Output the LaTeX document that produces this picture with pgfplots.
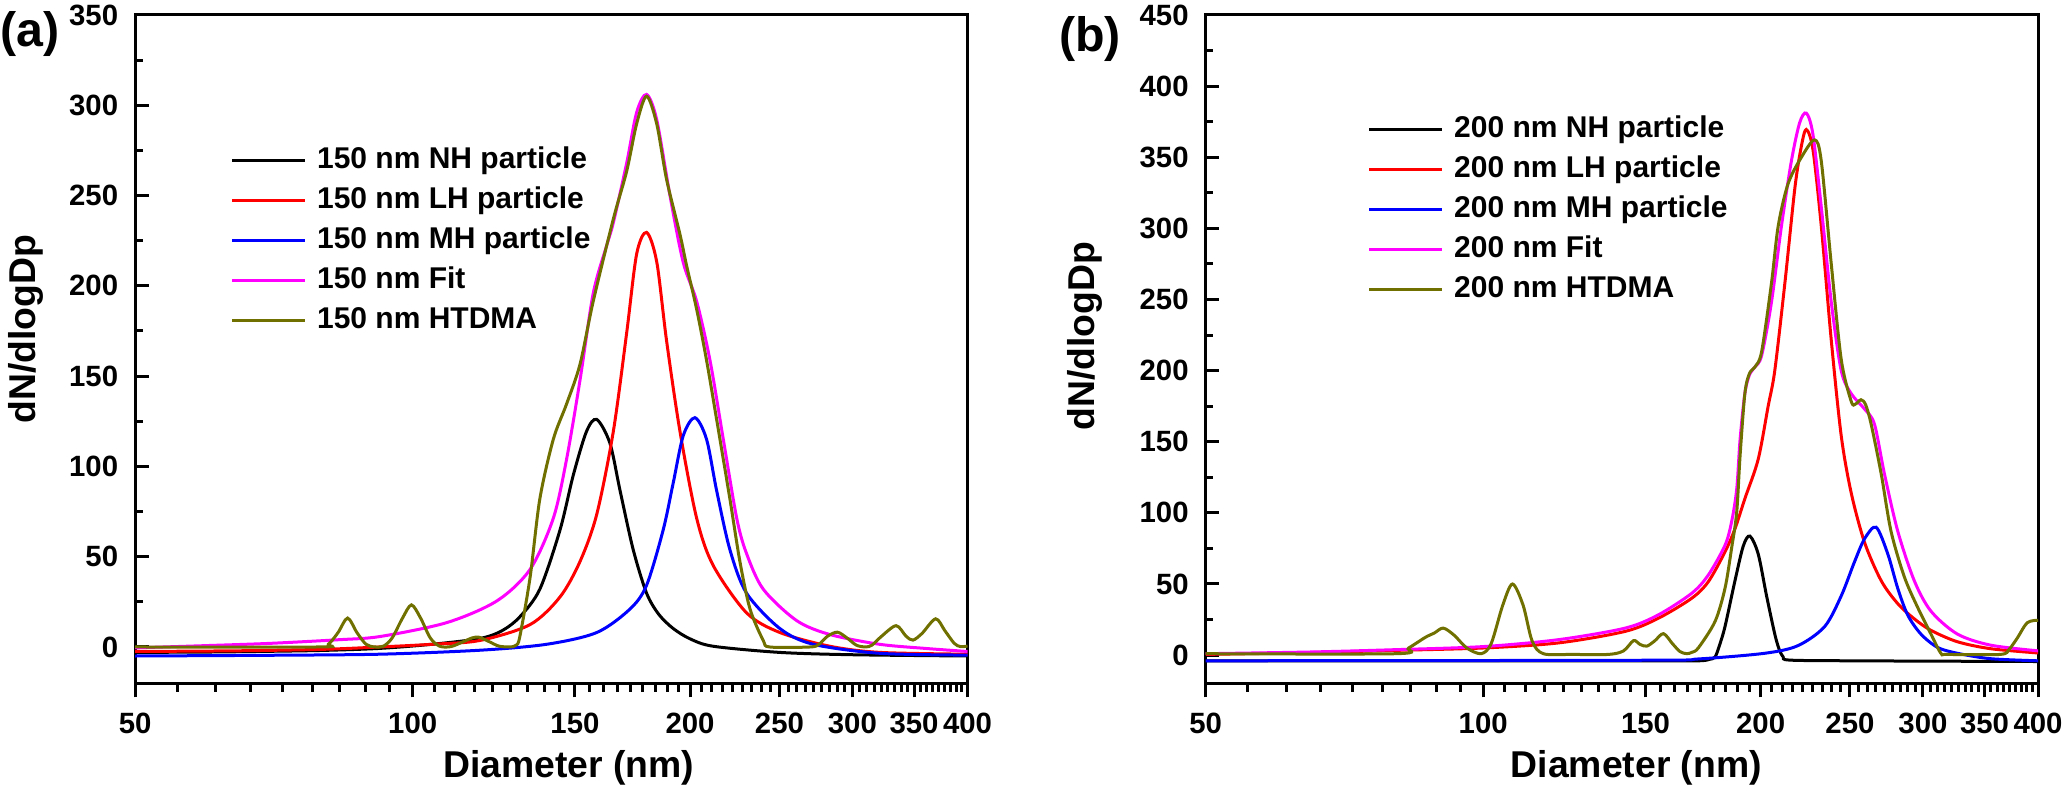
\documentclass[border=0pt]{standalone}
\usepackage{fontspec}
\setmainfont{Liberation Sans}
\usepackage{pgfplots}
\pgfplotsset{compat=1.18}
\definecolor{htdma}{RGB}{112,112,0}
\definecolor{fitc}{RGB}{255,0,255}

\pgfplotsset{
  myaxis/.style={
    scale only axis,
    width=249.7pt, height=200.7pt,
    xmin=50, xmax=400,
    xtick={50,100,150,200,250,300,350,400},
    xticklabels={50,100,150,200,250,300,350,400},
    minor xtick={55.556,61.111,66.667,72.222,77.778,83.333,88.889,94.444,
      105.556,111.111,116.667,122.222,127.778,133.333,138.889,144.444,
      155.556,161.111,166.667,172.222,177.778,183.333,188.889,194.444,
      205.556,211.111,216.667,222.222,227.778,233.333,238.889,244.444,
      255.556,261.111,266.667,272.222,277.778,283.333,288.889,294.444,
      305.556,311.111,316.667,322.222,327.778,333.333,338.889,344.444,
      355.556,361.111,366.667,372.222,377.778,383.333,388.889,394.444},
    minor y tick num=1,
    xtick pos=bottom, ytick pos=left,
    xtick align=outside, ytick align=inside,
    major tick length=4pt, minor tick length=2.3pt,
    axis line style={line width=0.9pt},
    every tick/.style={black, line width=0.9pt},
    tick label style={font=\bfseries\fontsize{8.8}{10}\selectfont},
    yticklabel style={xshift=-1.6pt},
    xticklabel style={yshift=-1.3pt},
    /pgf/number format/assume math mode=true,
    label style={font=\bfseries\fontsize{11.2}{13}\selectfont},
    xlabel={Diameter (nm)},
    ylabel={dN/dlogDp},
    legend cell align=left,
    legend style={draw=none, fill=none, font=\bfseries\fontsize{9}{10}\selectfont,
      anchor=north west, inner sep=0pt, row sep=0.5pt,
      nodes={inner sep=1.5pt, text height=6.6pt, text depth=1.9pt},
      /tikz/every odd column/.append style={column sep=1.6pt}},
    legend image code/.code={\draw[##1, line width=0.9pt] (0pt,0pt) -- (21.9pt,0pt);},
    every axis plot/.append style={line width=0.9pt, smooth, tension=0.5},
  }
}

\begin{document}
\begin{tikzpicture}
\useasboundingbox (-40.56pt,-34.5pt) rectangle (579.54pt,205.2pt);

% ---------------- panel (a)
\begin{axis}[xmode=log, myaxis, at={(0pt,0pt)}, anchor=south west,
  ymin=-20.5, ymax=350, ytick={0,50,100,150,200,250,300,350},
  xlabel style={at={(axis description cs:0.5207,-0.1256)}, anchor=center},
  ylabel style={at={(axis description cs:-0.1312,0.5306)}, anchor=center},
  legend style={at={(axis description cs:0.1140,0.8120)}}]
\addplot[black] coordinates {(50,-3) (60,-2.8) (70,-2.4) (80,-1.9) (92,-0.8) (105,1.5) (118.3,4.7) (125,9) (130.7,16.7) (137.4,32) (144.5,64.8) (149.4,95.3) (154.4,119.4) (158.4,126) (163.7,112.8) (167.9,86.6) (173.5,53.9) (179.4,29.8) (185,18) (191.8,10.2) (200,4.5) (211.9,0.4) (250,-3) (300,-4.3) (400,-5)};
\addplot[red] coordinates {(50,-2.5) (65,-2.1) (80,-1.3) (92,0) (105,1.5) (118.3,3.6) (134.1,12.4) (144.5,27.7) (151.9,47.3) (158.4,73.5) (165.1,119.4) (170.7,174) (175,217.6) (179.4,229.6) (184,213.3) (188.6,169.6) (195,119.4) (203.3,71.3) (211.9,45.1) (230.3,18.9) (250.3,8) (283.6,0.4) (321.3,-3) (400,-4)};
\addplot[blue] coordinates {(50,-5) (70,-4.6) (92.2,-4) (118.3,-1.8) (139.8,1.5) (158.4,8) (172.1,21) (179.4,34.2) (187,64.8) (191.8,91) (196.6,117) (202.4,127) (208.4,115) (213.7,86.6) (220.9,53.9) (230.3,29.8) (250.3,10.2) (272,1.5) (321,-3.5) (400,-4.5)};
\addplot[fitc] coordinates {(50,-0.5) (60,0.8) (70,2) (83,4) (92.2,5.8) (108.9,13.5) (123.4,25.5) (134.1,43) (142.1,71.3) (146.9,104) (151.9,147.7) (157,195.8) (162.3,222) (165.1,235) (170.7,268) (175,296) (179.4,306) (184,292) (190.2,250) (196.6,213) (203.3,191.4) (210.2,158.7) (217.3,115) (224.7,71.3) (230.3,51.7) (240.1,32) (261,14.6) (283.6,6.9) (321,1.5) (360,-0.8) (400,-2.5)};
\addplot[htdma] coordinates {(50,0) (79,0) (81,1.5) (83,8) (85,16) (87,8) (89,1.5) (91,0) (93,0.5) (95,5) (97.5,16) (99.7,23.3) (102,16) (104.5,5) (107,0.4) (110,0.2) (113,2.5) (116,5) (118,5.4) (121,3) (124,0.5) (127.5,0) (129.5,1) (130.7,5.8) (134.1,38.6) (137.4,82) (142.1,115) (146.9,134.6) (151.9,156.5) (157,191.4) (165.1,237) (170.7,263.5) (175,289.7) (179.4,305) (184,289.7) (188.6,259) (195,228.5) (198.3,211) (203.3,187) (208.4,158.7) (213.7,126) (220.9,82) (226.5,47.3) (232.3,21) (240.1,3.6) (244,0) (270,0) (276,1.5) (282,6) (289,8.2) (296,5) (303,1) (310,0) (315,1) (322,5.5) (334.6,11.8) (343,6) (349,3.8) (357,7.5) (369.4,15.6) (378,9) (387,2) (393,0.2) (400,0.5)};
\legend{150 nm NH particle,150 nm LH particle,150 nm MH particle,150 nm Fit,150 nm HTDMA}
\end{axis}

% ---------------- panel (b)
\begin{axis}[xmode=log, myaxis, at={(321.15pt,0pt)}, anchor=south west,
  ymin=-20.3, ymax=450, ytick={0,50,100,150,200,250,300,350,400,450},
  xlabel style={at={(axis description cs:0.5173,-0.1256)}, anchor=center},
  ylabel style={at={(axis description cs:-0.1457,0.520)}, anchor=center},
  legend style={at={(axis description cs:0.1940,0.8585)}}]
\addplot[black] coordinates {(50,-4) (150,-4) (171.2,-4) (176,-3) (178.5,-1.3) (180.5,7) (183,20.1) (187.6,52.3) (191.5,76.5) (194.7,83.7) (198.8,71.1) (203,41.6) (207.2,14.8) (209.5,4) (211.6,-1.3) (215,-3.5) (250,-4) (400,-4.5)};
\addplot[red] coordinates {(50,0.5) (65,1.8) (80,3.3) (100,5) (120.8,8.6) (142.6,16.7) (155,26) (168.4,40) (175.5,51.6) (183,72.6) (187.6,88.8) (192.3,110) (198.8,137.7) (203.8,175) (207.2,200) (212.5,261.6) (217.9,328.7) (221.5,358.2) (224.2,369.5) (227.9,355.5) (232.7,301.8) (238.6,221.4) (244.6,154.3) (250.8,114) (259.3,79.2) (270.3,52.3) (281.7,36.2) (293.6,25.5) (306.1,17.4) (327,9.4) (355.3,4.5) (400,1.5)};
\addplot[blue] coordinates {(50,-4) (150,-3.6) (171.2,-2.7) (202.1,1.3) (219.6,6.7) (234.7,20.1) (244.6,41.6) (252.9,65.7) (259.3,81.8) (266.9,89.9) (274.8,71.1) (281.7,47) (288.8,28.2) (298.5,14.8) (311.2,5.4) (327,1.3) (355,-2.5) (400,-4)};
\addplot[fitc] coordinates {(50,1) (65,2.2) (80,3.8) (100,6) (120.8,10.9) (142.6,19) (155,28.4) (168.4,43.5) (175.5,56.3) (183,77.2) (186,93.5) (188.4,116.7) (190,151.6) (192.3,184) (194.5,197) (197.2,202.6) (200.5,210.6) (205.5,248.2) (210.7,301.8) (216,347.5) (220.5,374.3) (224.2,381) (227.9,366.2) (232.7,315.3) (238.6,248.2) (244.6,200) (250.8,183.8) (259.3,173) (265.8,162.3) (272.5,127.4) (281.7,87.2) (293.6,52.3) (306.1,30.9) (327,14.8) (355.3,7) (400,3)};
\addplot[htdma] coordinates {(50,1) (80.5,1) (83,5) (86.6,12.6) (88.5,15.5) (90.5,19) (93,14) (96,5) (99.5,1) (102,8) (105,35) (107.6,50) (110.5,35) (113,10) (116.2,1) (125,0.5) (136.8,0.5) (142,3) (145.6,10.2) (148,7.5) (150.5,6.3) (153.5,10) (156.9,15.1) (160.5,8) (163.5,2.5) (166.3,1) (168.5,2) (171.2,5.1) (178.5,23.7) (183,47) (186,74.9) (188.4,100.5) (190,140) (192.3,184) (194.5,198) (197.2,202.6) (200.5,213.3) (205.5,261.6) (209,301.8) (214.2,331.4) (221.5,350.1) (228.9,362.2) (232.7,347.5) (238.6,275) (244.6,208) (250.8,178.4) (253.5,176.5) (257,179.5) (260,176) (263.6,162.3) (270.3,127.4) (277,87.2) (286.4,55) (296.1,33.5) (306.1,14.8) (313.8,1.3) (319,0.5) (364,0.5) (372,4) (379.8,12) (389.4,22.8) (400,24.5)};
\legend{200 nm NH particle,200 nm LH particle,200 nm MH particle,200 nm Fit,200 nm HTDMA}
\end{axis}

\node at (-31.5pt,195pt) {\bfseries\fontsize{14.5}{16}\selectfont (a)};
\node at (286.4pt,193.5pt) {\bfseries\fontsize{14.5}{16}\selectfont (b)};
\end{tikzpicture}
\end{document}
